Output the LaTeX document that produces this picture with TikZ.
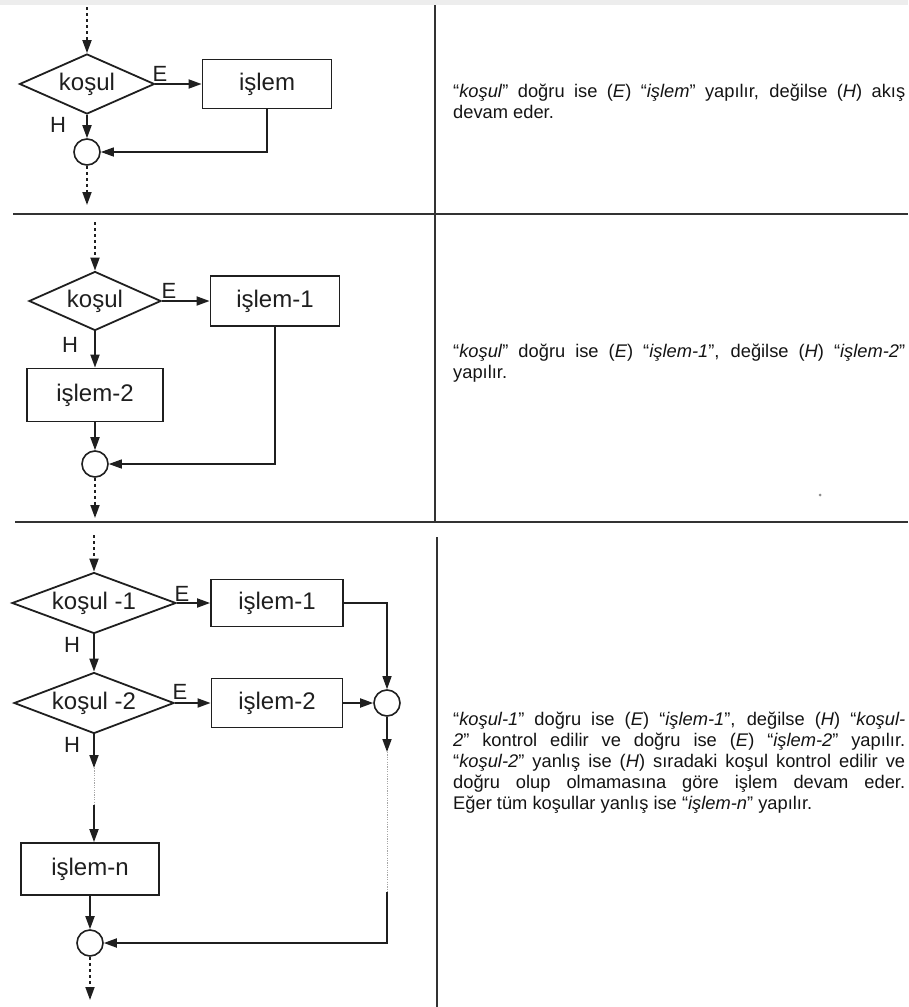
\documentclass[tikz,border=0pt]{standalone}
\usepackage{fontspec}
\setmainfont{Liberation Sans}
\usetikzlibrary{shapes.geometric,arrows.meta}

\begin{document}
\begin{tikzpicture}[x=1pt,y=-1pt,
  ink/.style={draw=black!88},
  lbl/.style={font=\fontsize{24}{28}\selectfont, text=black!88},
  dia/.style={diamond, aspect=2.6, ink, line width=1.8pt, inner sep=0pt, lbl},
  opbox/.style={rectangle, ink, line width=1.8pt, inner sep=0pt, lbl},
  jn/.style={circle, ink, line width=1.6pt, minimum size=26pt, inner sep=0pt},
  flow/.style={draw=black!88, line width=1.8pt, -{Triangle[length=13pt,width=9pt]}},
  retflow/.style={flow, line width=1.4pt},
  dotflow/.style={flow, dash pattern=on 3pt off 3pt},
  faint/.style={draw=black!35, line width=1pt, dash pattern=on 1.2pt off 1.2pt},
  eh/.style={font=\fontsize{22}{26}\selectfont, text=black!88, inner sep=0pt},
  divider/.style={draw=black!80, line width=1.8pt},
  txt/.style={font=\fontsize{18.3}{21}\selectfont, text=black!92, inner sep=0pt, align=left, anchor=north west},
]
\useasboundingbox (0,0) rectangle (908,1007);
\fill[white] (0,0) rectangle (908,1007);
\fill[black!7] (0,0) rectangle (908,5);

% table rules
\draw[divider] (435,5) -- (435,522);
\draw[divider] (437,537) -- (437,1007);
\draw[divider] (13,214) -- (908,214);
\draw[divider] (15,522) -- (908,522);

% ---------- row 1: single branch ----------
\node[dia, minimum width=135pt, minimum height=60pt] (k0) at (87,84) {koşul};
\node[opbox, minimum width=129pt, minimum height=49pt] (p0) at (267,84) {işlem};
\node[jn] (j0) at (87,152) {};
\coordinate (in0) at (87,7);
\coordinate (out0) at (87,205);
\draw[dotflow] (in0) -- (k0.north);
\draw[flow] (k0.east) -- (p0.west);
\draw[flow] (k0.south) -- (j0.north);
\draw[retflow] (p0.south) |- (j0.east);
\draw[dotflow] (j0.south) -- (out0);
\node[eh] (e0) at (160,74) {E};
\node[eh] (h0) at (58,125) {H};

\node[txt] (tA) at (453,84) {\makebox[452pt][s]{“\textit{koşul}” doğru ise (\textit{E}) “\textit{işlem}” yapılır, değilse (\textit{H}) akış}\\devam eder.};

% ---------- row 2: two branches ----------
\node[dia, minimum width=132pt, minimum height=59pt] (k1) at (95,301) {koşul};
\node[opbox, minimum width=129pt, minimum height=50pt] (p1) at (275,301) {işlem-1};
\node[opbox, minimum width=136pt, minimum height=53pt] (p2) at (95,395) {işlem-2};
\node[jn] (j1) at (95,464) {};
\coordinate (in1) at (95,222);
\coordinate (out1) at (95,518);
\draw[dotflow] (in1) -- (k1.north);
\draw[flow] (k1.east) -- (p1.west);
\draw[flow] (k1.south) -- (p2.north);
\draw[flow] (p2.south) -- (j1.north);
\draw[retflow] (p1.south) |- (j1.east);
\draw[dotflow] (j1.south) -- (out1);
\node[eh] (e1) at (169,291) {E};
\node[eh] (h1) at (70,345) {H};

\node[txt] (tB) at (453,344) {\makebox[452pt][s]{“\textit{koşul}” doğru ise (\textit{E}) “\textit{işlem-1}”, değilse (\textit{H}) “\textit{işlem-2}”}\\yapılır.};

\fill[black!45] (820,495) circle (1.5pt);

% ---------- row 3: chained conditions ----------
\node[dia, minimum width=164pt, minimum height=61pt] (k2) at (94,603) {koşul -1};
\node[opbox, minimum width=132pt, minimum height=47pt] (p3) at (277,603) {işlem-1};
\node[dia, minimum width=160pt, minimum height=61pt] (k3) at (94,703) {koşul -2};
\node[opbox, minimum width=131pt, minimum height=49pt] (p4) at (277,703) {işlem-2};
\node[jn] (j2) at (387,703) {};
\node[opbox, minimum width=138pt, minimum height=52pt] (pn) at (90,869) {işlem-n};
\node[jn] (j3) at (90,943) {};
\coordinate (in2) at (94,535);
\coordinate (r1) at (387,752);
\coordinate (r2) at (387,892);
\coordinate (l1) at (94,768);
\coordinate (l2) at (94,805);
\coordinate (out3) at (90,1000);

\draw[dotflow] (in2) -- (k2.north);
\draw[flow] (k2.east) -- (p3.west);
\draw[retflow] (p3.east) -| (j2.north);
\draw[flow] (k2.south) -- (k3.north);
\draw[flow] (k3.east) -- (p4.west);
\draw[flow] (p4.east) -- (j2.west);
\draw[flow] (j2.south) -- (r1);
\draw[faint] (r1) -- (r2);
\draw[flow] (r2) |- (j3.east);
\draw[flow] (k3.south) -- (l1);
\draw[faint] (l1) -- (l2);
\draw[flow] (l2) -- (l2 |- pn.north);
\draw[flow] (pn.south) -- (j3.north);
\draw[dotflow] (j3.south) -- (out3);
\node[eh] (e2) at (182,594) {E};
\node[eh] (h2) at (72,645) {H};
\node[eh] (e3) at (180,692) {E};
\node[eh] (h3) at (72,745) {H};

\node[txt] (tC) at (453,712) {%
\makebox[452pt][s]{“\textit{koşul-1}” doğru ise (\textit{E}) “\textit{işlem-1}”, değilse (\textit{H}) “\textit{koşul-}}\\
\makebox[452pt][s]{\textit{2}” kontrol edilir ve doğru ise (\textit{E}) “\textit{işlem-2}” yapılır.}\\
\makebox[452pt][s]{“\textit{koşul-2}” yanlış ise (\textit{H}) sıradaki koşul kontrol edilir ve}\\
\makebox[452pt][s]{doğru olup olmamasına göre işlem devam eder.}\\
Eğer tüm koşullar yanlış ise “\textit{işlem-n}” yapılır.};
\end{tikzpicture}
\end{document}
